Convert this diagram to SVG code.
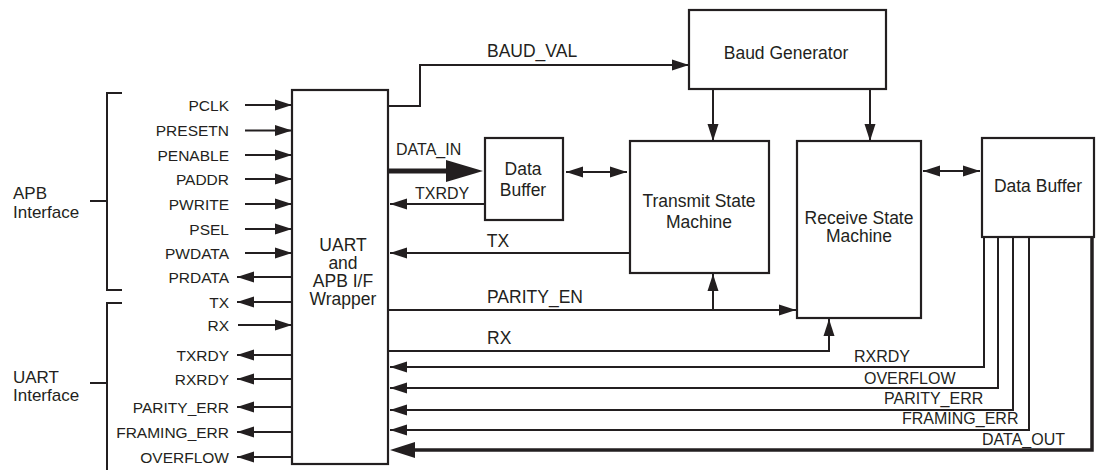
<svg xmlns="http://www.w3.org/2000/svg" width="1096" height="470" viewBox="0 0 1096 470">
  <style>
    .box { fill: #ffffff; stroke: #231f20; stroke-width: 2.2; }
    .br { fill: none; stroke: #231f20; stroke-width: 2; }
    .w { fill: none; stroke: #231f20; stroke-width: 2; }
    .thick { fill: none; stroke: #231f20; stroke-width: 5; }
    .bus { fill: none; stroke: #231f20; stroke-width: 3.5; }
    .a { marker-end: url(#ah); }
    .aa { marker-start: url(#ah); marker-end: url(#ah); }
    text { font-family: "Liberation Sans", Arial, Helvetica, sans-serif; fill: #231f20; }
    .blk { font-size: 17.5px; text-anchor: middle; }
    .sig { font-size: 15.5px; text-anchor: end; }
    .lbl { font-size: 17.5px; }
    .sm { font-size: 16px; }
    .grp { font-size: 17px; }
  </style>
  <defs>
    <marker id="ah" markerUnits="userSpaceOnUse" markerWidth="18" markerHeight="12" refX="17" refY="6" orient="auto-start-reverse">
      <path d="M0,0.5 L17,6 L0,11.5 Z" fill="#231f20"/>
    </marker>
    <marker id="ahBig" markerUnits="userSpaceOnUse" markerWidth="38" markerHeight="24" refX="27" refY="12" orient="auto">
      <path d="M0,1 L37,12 L0,23 Z" fill="#231f20"/>
    </marker>
    <marker id="ahBus" markerUnits="userSpaceOnUse" markerWidth="26" markerHeight="18" refX="19" refY="9" orient="auto">
      <path d="M0,1 L25,9 L0,17 Z" fill="#231f20"/>
    </marker>
  </defs>

  <!-- interface brackets -->
  <g id="apb-interface">
    <path class="br" d="M122,93 H107 V290 H122 M90,201 H107"/>
    <text class="grp" x="13" y="199">APB<tspan x="13" y="218">Interface</tspan></text>
  </g>
  <g id="uart-interface">
    <path class="br" d="M122,303 H107 V470 M90,383 H107"/>
    <text class="grp" x="13" y="383">UART<tspan x="13" y="401">Interface</tspan></text>
  </g>

  <!-- blocks -->
  <g id="wrapper">
    <rect class="box" x="292" y="90" width="96" height="374"/>
    <text class="blk" x="343" y="251">UART<tspan x="343" y="269">and</tspan><tspan x="343" y="287">APB I/F</tspan><tspan x="343" y="305">Wrapper</tspan></text>
  </g>
  <g id="baud-generator">
    <rect class="box" x="689" y="10" width="197" height="79"/>
    <text class="blk" x="786" y="59">Baud Generator</text>
  </g>
  <g id="tx-data-buffer">
    <rect class="box" x="485" y="138" width="78" height="82"/>
    <text class="blk" x="523" y="175">Data<tspan x="523" y="196">Buffer</tspan></text>
  </g>
  <g id="transmit-sm">
    <rect class="box" x="630" y="141" width="139" height="132"/>
    <text class="blk" x="699" y="207">Transmit State<tspan x="699" y="228">Machine</tspan></text>
  </g>
  <g id="receive-sm">
    <rect class="box" x="797" y="141" width="124" height="177"/>
    <text class="blk" x="859" y="224">Receive State<tspan x="859" y="242">Machine</tspan></text>
  </g>
  <g id="rx-data-buffer">
    <rect class="box" x="982" y="138" width="112" height="99"/>
    <text class="blk" x="1038" y="192">Data Buffer</text>
  </g>

  <!-- signals -->
  <g id="connectors">
    <!-- APB inputs -->
    <path class="w a" d="M245,105 H292"/>
    <path class="w a" d="M245,130.5 H292"/>
    <path class="w a" d="M245,155 H292"/>
    <path class="w a" d="M245,179 H292"/>
    <path class="w a" d="M245,204 H292"/>
    <path class="w a" d="M245,229 H292"/>
    <path class="w a" d="M245,253 H292"/>
    <path class="w a" d="M292,277 H237"/>
    <!-- UART pins -->
    <path class="w a" d="M292,302 H237"/>
    <path class="w a" d="M238,325 H292"/>
    <path class="w a" d="M292,355 H237"/>
    <path class="w a" d="M292,379 H237"/>
    <path class="w a" d="M292,407 H237"/>
    <path class="w a" d="M292,432 H237"/>
    <path class="w a" d="M292,457 H237"/>

    <text class="sig" x="229" y="110.5">PCLK</text>
    <text class="sig" x="229" y="136">PRESETN</text>
    <text class="sig" x="229" y="160.5">PENABLE</text>
    <text class="sig" x="229" y="184.5">PADDR</text>
    <text class="sig" x="229" y="209.5">PWRITE</text>
    <text class="sig" x="229" y="234.5">PSEL</text>
    <text class="sig" x="229" y="258.5">PWDATA</text>
    <text class="sig" x="229" y="282.5">PRDATA</text>
    <text class="sig" x="229" y="307.5">TX</text>
    <text class="sig" x="229" y="330.5">RX</text>
    <text class="sig" x="229" y="360.5">TXRDY</text>
    <text class="sig" x="229" y="384.5">RXRDY</text>
    <text class="sig" x="229" y="412.5">PARITY_ERR</text>
    <text class="sig" x="229" y="437.5">FRAMING_ERR</text>
    <text class="sig" x="229" y="462.5">OVERFLOW</text>

    <!-- internal paths -->
    <path class="w a" d="M388,106 H420 V65 H689"/>
    <text class="lbl" x="487" y="57">BAUD_VAL</text>
    <path class="w a" d="M713,89 V141"/>
    <path class="w a" d="M870,89 V141"/>

    <path class="thick" d="M388,171 H473" marker-end="url(#ahBig)"/>
    <text class="sm" x="396" y="155">DATA_IN</text>
    <path class="w a" d="M485,204 H390"/>
    <text class="sm" x="415" y="199">TXRDY</text>
    <path class="w aa" d="M566,172 H627"/>

    <path class="w a" d="M630,253 H390"/>
    <text class="lbl" x="498" y="247" text-anchor="middle">TX</text>

    <path class="w a" d="M388,310 H796"/>
    <path class="w a" d="M713,310 V274"/>
    <text class="lbl" x="487" y="303">PARITY_EN</text>

    <path class="w a" d="M388,351 H829 V319"/>
    <text class="lbl" x="487" y="344">RX</text>

    <path class="w aa" d="M923,171 H980"/>

    <path class="w a" d="M984,237 V367 H390"/>
    <text class="sm" x="854" y="362">RXRDY</text>
    <path class="w a" d="M998,237 V388 H390"/>
    <text class="sm" x="864" y="384">OVERFLOW</text>
    <path class="w a" d="M1013,237 V410 H390"/>
    <text class="sm" x="884" y="404">PARITY_ERR</text>
    <path class="w a" d="M1029,237 V430 H390"/>
    <text class="sm" x="902" y="424">FRAMING_ERR</text>
    <path class="bus" d="M1092,237 V450 H396" marker-end="url(#ahBus)"/>
    <text class="sm" x="982" y="445">DATA_OUT</text>
  </g>
</svg>
